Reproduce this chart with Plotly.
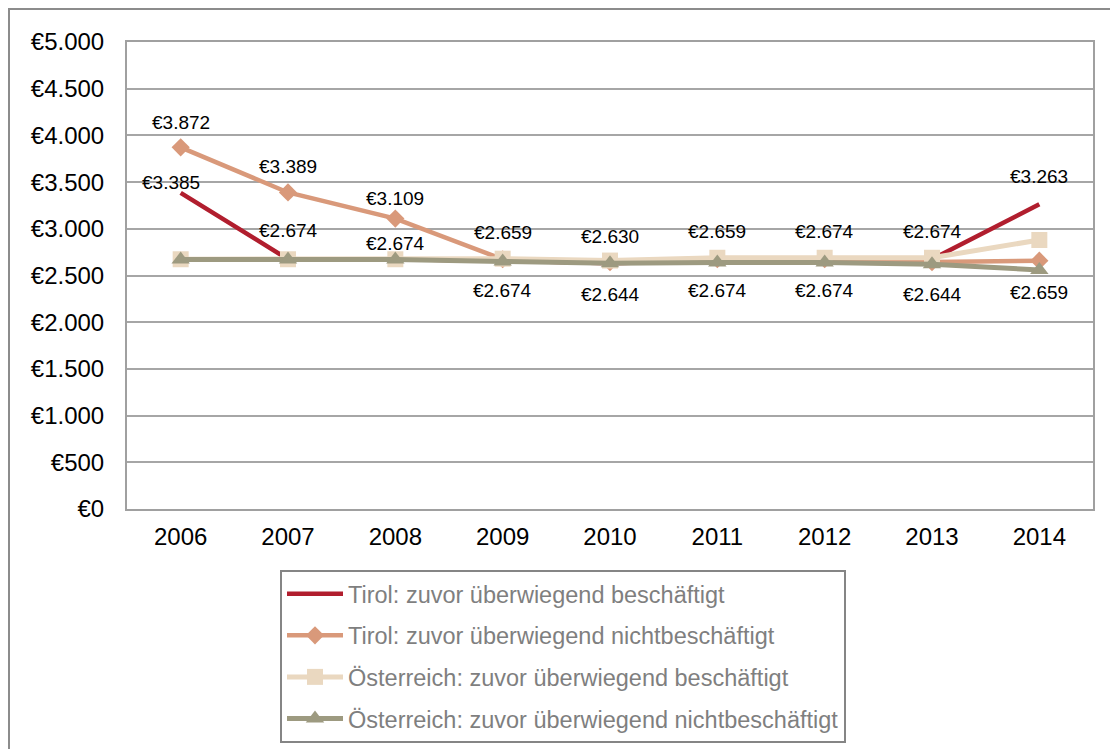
import plotly.graph_objects as go

years = [2006, 2007, 2008, 2009, 2010, 2011, 2012, 2013, 2014]

tirol_besch = [3385, 2674, 2674, 2659, 2630, 2659, 2674, 2674, 3263]
tirol_nichtbesch = [3872, 3389, 3109, 2674, 2644, 2674, 2674, 2644, 2659]
oe_besch = [2674, 2674, 2674, 2680, 2660, 2690, 2690, 2690, 2880]
oe_nichtbesch = [2670, 2670, 2670, 2650, 2630, 2640, 2640, 2620, 2560]

names = [
    "Tirol: zuvor überwiegend beschäftigt",
    "Tirol: zuvor überwiegend nichtbeschäftigt",
    "Österreich: zuvor überwiegend beschäftigt",
    "Österreich: zuvor überwiegend nichtbeschäftigt",
]
colors = ["#B11E2E", "#D9997A", "#EAD8C0", "#9D9A80"]

y_ticks = [0, 500, 1000, 1500, 2000, 2500, 3000, 3500, 4000, 4500, 5000]

# label placement per point: (xshift, yshift) in pixels
red_label_shift = [(-10, 10), (0, 29), (0, 16), (0, 28), (0, 27), (0, 29), (0, 28), (0, 28), (0, 28)]
orange_label_shift = [(0, 25), (0, 26), (0, 20), (0, -31), (0, -32), (0, -31), (0, -31), (0, -32), (0, -32)]

FONT = "Liberation Sans, Arial"


def euro(v):
    return "€" + f"{v:,}".replace(",", ".")


fig = go.Figure()

fig.add_trace(go.Scatter(
    x=years, y=tirol_besch, name=names[0], mode="lines",
    line=dict(color=colors[0], width=4.5), legendgroup="a",
))
fig.add_trace(go.Scatter(
    x=years, y=tirol_nichtbesch, name=names[1], mode="lines+markers",
    line=dict(color=colors[1], width=4.5),
    marker=dict(symbol="diamond", size=14, color=colors[1]), legendgroup="b",
))
fig.add_trace(go.Scatter(
    x=years, y=oe_besch, name=names[2], mode="lines+markers",
    line=dict(color=colors[2], width=5),
    marker=dict(symbol="square", size=16, color=colors[2]), legendgroup="c",
))
fig.add_trace(go.Scatter(
    x=years, y=oe_nichtbesch, name=names[3], mode="lines+markers",
    line=dict(color=colors[3], width=5),
    marker=dict(symbol="triangle-up", size=16, color=colors[3]), legendgroup="d",
))

annotations = []
for series, shifts in ((tirol_besch, red_label_shift), (tirol_nichtbesch, orange_label_shift)):
    for x, v, (dx, dy) in zip(years, series, shifts):
        annotations.append(dict(
            x=x, y=v, text=euro(v), showarrow=False,
            xshift=dx, yshift=dy, xanchor="center", yanchor="middle",
            font=dict(family=FONT, size=19, color="#000000"),
        ))

# plot area in pixels: left 127, right 1093, top 42, bottom 509
W, H = 1110, 749
L, R, T, B = 127, 1093, 42, 509
pw, ph = R - L, B - T


def px_x(p):
    return (p - L) / pw


def px_y(p):
    return (B - p) / ph


shapes = [dict(
    type="rect", xref="paper", yref="paper",
    x0=px_x(9), x1=px_x(1125), y0=px_y(770), y1=px_y(9),
    line=dict(color="#8C8C8C", width=2), fillcolor="rgba(0,0,0,0)", layer="below",
)]

fig.update_layout(
    width=W, height=H,
    margin=dict(l=L, r=W - R, t=T, b=H - B),
    paper_bgcolor="white", plot_bgcolor="white",
    font=dict(family=FONT, color="#000000"),
    separators=",.",
    showlegend=True,
    legend=dict(
        xref="paper", yref="container",
        x=px_x(280), y=1 - 570 / H, xanchor="left", yanchor="top",
        bordercolor="#858585", borderwidth=2, bgcolor="white",
        font=dict(family=FONT, size=23.5, color="#7F7F7F"),
        tracegroupgap=8, itemwidth=56,
    ),
    annotations=annotations,
    shapes=shapes,
)

fig.update_xaxes(
    range=[2005.5, 2014.5], tickmode="array", tickvals=years,
    ticktext=[str(y) for y in years],
    showgrid=False, zeroline=False,
    showline=True, mirror=True, linecolor="#A0A0A0", linewidth=2,
    ticks="", ticklabelstandoff=5, automargin=False,
    tickfont=dict(family=FONT, size=24, color="#000000"),
)
fig.update_yaxes(
    range=[0, 5000], tickmode="array", tickvals=y_ticks,
    ticktext=[euro(v) for v in y_ticks],
    showgrid=True, gridcolor="#A6A6A6", gridwidth=1.5,
    zeroline=False,
    showline=True, mirror=True, linecolor="#A0A0A0", linewidth=2,
    ticks="", ticklabelstandoff=16, automargin=False,
    tickfont=dict(family=FONT, size=24, color="#000000"),
)

fig.write_html("out.html")
